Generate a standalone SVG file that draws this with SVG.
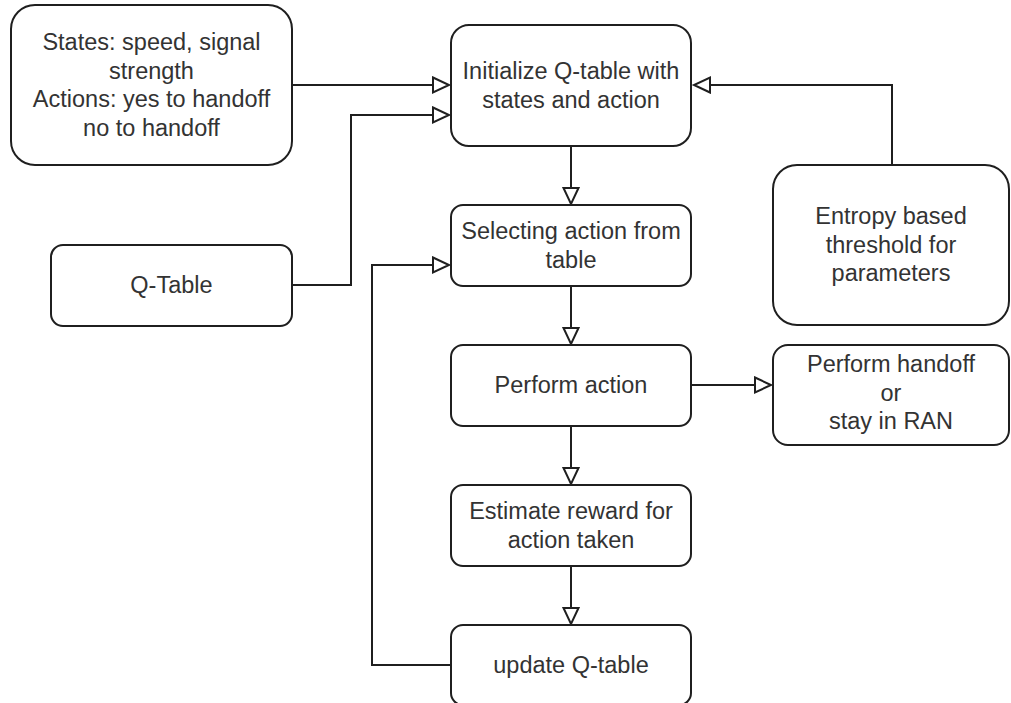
<svg xmlns="http://www.w3.org/2000/svg" width="1011" height="703" viewBox="0 0 1011 703">
  <style>
    .box { fill: #ffffff; stroke: #1f1f1f; stroke-width: 2; }
    .lbl { font-family: "Liberation Sans", Arial, sans-serif; font-size: 23.5px; fill: #333333; text-anchor: middle; }
    .edge { fill: none; stroke: #1f1f1f; stroke-width: 2; marker-end: url(#open); }
  </style>
  <defs>
    <!-- hollow block arrowhead -->
    <marker id="open" markerUnits="userSpaceOnUse" markerWidth="20" markerHeight="20" refX="17" refY="9" orient="auto">
      <path d="M1,1.5 L17,9 L1,16.5 Z" fill="#ffffff" stroke="#1f1f1f" stroke-width="2" stroke-linejoin="miter"/>
    </marker>
  </defs>
  <rect width="1011" height="703" fill="#ffffff"/>

  <g id="connectors">
    <path class="edge" d="M292,85 H449"/>
    <path class="edge" d="M292,285 H351 V115 H449"/>
    <path class="edge" d="M451,665 H372 V265 H449"/>
    <path class="edge" d="M892,165 V85 H694"/>
    <path class="edge" d="M571,146 V204"/>
    <path class="edge" d="M571,286 V344"/>
    <path class="edge" d="M571,426 V484"/>
    <path class="edge" d="M571,566 V624"/>
    <path class="edge" d="M691,385 H771"/>
  </g>

  <g id="states-actions">
    <rect class="box" x="11" y="5" width="281" height="160" rx="24"/>
    <text class="lbl" x="151.5" y="50">States: speed, signal</text>
    <text class="lbl" x="151.5" y="78.5">strength</text>
    <text class="lbl" x="151.5" y="107">Actions: yes to handoff</text>
    <text class="lbl" x="151.5" y="135.5">no to handoff</text>
  </g>

  <g id="q-table">
    <rect class="box" x="51" y="245" width="241" height="81" rx="12"/>
    <text class="lbl" x="171.5" y="293">Q-Table</text>
  </g>

  <g id="initialize">
    <rect class="box" x="451" y="25" width="240" height="121" rx="18"/>
    <text class="lbl" x="571" y="79">Initialize Q-table with</text>
    <text class="lbl" x="571" y="107.5">states and action</text>
  </g>

  <g id="select-action">
    <rect class="box" x="451" y="205" width="240" height="81" rx="12"/>
    <text class="lbl" x="571" y="239">Selecting action from</text>
    <text class="lbl" x="571" y="267.5">table</text>
  </g>

  <g id="perform-action">
    <rect class="box" x="451" y="345" width="240" height="81" rx="12"/>
    <text class="lbl" x="571" y="393">Perform action</text>
  </g>

  <g id="estimate-reward">
    <rect class="box" x="451" y="485" width="240" height="81" rx="12"/>
    <text class="lbl" x="571" y="519">Estimate reward for</text>
    <text class="lbl" x="571" y="547.5">action taken</text>
  </g>

  <g id="update-q-table">
    <rect class="box" x="451" y="625" width="240" height="80" rx="12"/>
    <text class="lbl" x="571" y="673">update Q-table</text>
  </g>

  <g id="entropy-threshold">
    <rect class="box" x="773" y="165" width="236" height="160" rx="24"/>
    <text class="lbl" x="891" y="224">Entropy based</text>
    <text class="lbl" x="891" y="252.5">threshold for</text>
    <text class="lbl" x="891" y="281">parameters</text>
  </g>

  <g id="handoff-outcome">
    <rect class="box" x="773" y="345" width="236" height="100" rx="15"/>
    <text class="lbl" x="891" y="372">Perform handoff</text>
    <text class="lbl" x="891" y="400.5">or</text>
    <text class="lbl" x="891" y="429">stay in RAN</text>
  </g>
</svg>
